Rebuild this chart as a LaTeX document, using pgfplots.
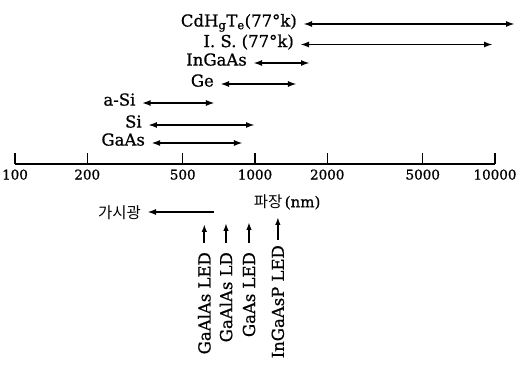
\documentclass[border=0pt]{standalone}
\usepackage{fontspec}
\setmainfont{DejaVu Serif}[FakeBold=0.8]
\newfontfamily\kr{Noto Sans CJK KR}
\usepackage{pgfplots}
\pgfplotsset{compat=1.18}
\usetikzlibrary{arrows.meta}
\tikzset{
  lbl/.style={anchor=mid east, inner sep=0pt, xshift=-6bp, font=\fontsize{16.5bp}{18bp}\selectfont},
  dbl/.style={{Latex[length=9bp,width=6bp]}-{Latex[length=9bp,width=6bp]}},
  upa/.style={-{Latex[length=8bp,width=5.5bp]}},
  vlbl/.style={rotate=90, anchor=east, inner sep=0pt, font=\fontsize{16.5bp}{18bp}\selectfont},
}
\begin{document}
\begin{tikzpicture}
\begin{axis}[
  scale only axis, width=480bp, height=371bp,
  xmode=log, xmin=100, xmax=10000, ymin=-207, ymax=164,
  axis x line=middle, axis y line=none,
  x axis line style={-, line width=1.6bp},
  xtick={100,200,500,1000,2000,5000,10000},
  xticklabels={100,200,500,1000,2000,5000,10000},
  minor xtick={}, xminorticks=false,
  xtick align=inside, major tick length=11bp,
  xtick style={line width=1.2bp, black},
  xticklabel style={font=\fontsize{13.5bp}{15bp}\selectfont, anchor=north, yshift=-2bp},
  ytick=\empty,
  clip=false,
  every axis plot/.append style={line width=1.8bp, black},
]
% detector ranges
\addplot[dbl] coordinates {(1585,140) (12115,140)};
\addplot[dbl] coordinates {(1540,119.5) (9810,119.5)};
\addplot[dbl] coordinates {(981,101) (1695,101)};
\addplot[dbl] coordinates {(715,80) (1496,80)};
\addplot[dbl] coordinates {(337,61) (681,61)};
\addplot[dbl] coordinates {(358,39) (1000,39)};
\addplot[dbl] coordinates {(369,21) (891,21)};
\node[lbl] at (axis cs:1585,140) {CdH\textsubscript{g}T\textsubscript{e}(77°k)};
\node[lbl] at (axis cs:1540,119.5) {I. S. (77°k)};
\node[lbl] at (axis cs:981,101) {InGaAs};
\node[lbl] at (axis cs:715,80) {Ge};
\node[lbl] at (axis cs:337,61) {a-Si};
\node[lbl] at (axis cs:358,39) {Si};
\node[lbl] at (axis cs:369,21) {GaAs};
% visible light
\addplot[-{Latex[length=9bp,width=6bp]}] coordinates {(675,-48) (355,-48)};
\node[anchor=east, inner sep=0pt, xshift=-6bp, font=\kr\fontsize{15.5bp}{16bp}\selectfont] at (axis cs:355,-49) {가시광};
\node[font=\fontsize{15bp}{16bp}\selectfont] at (axis cs:1360,-38) {{\kr\fontsize{15.5bp}{16bp}\selectfont 파장}\,(nm)};
% light sources
\addplot[upa] coordinates {(615,-79) (615,-60)};
\addplot[upa] coordinates {(757,-79) (757,-59)};
\addplot[upa] coordinates {(944,-79) (944,-58)};
\addplot[upa] coordinates {(1245,-76) (1245,-53)};
\node[vlbl] at (axis cs:615,-88) {GaAlAs LED};
\node[vlbl] at (axis cs:757,-88) {GaAlAs LD};
\node[vlbl] at (axis cs:944,-88) {GaAs LED};
\node[vlbl] at (axis cs:1245,-81) {InGaAsP LED};
\end{axis}
\pgfresetboundingbox
\path ([xshift=-15bp]current axis.south west) rectangle ([xshift=23bp]current axis.north east);
\end{tikzpicture}
\end{document}
